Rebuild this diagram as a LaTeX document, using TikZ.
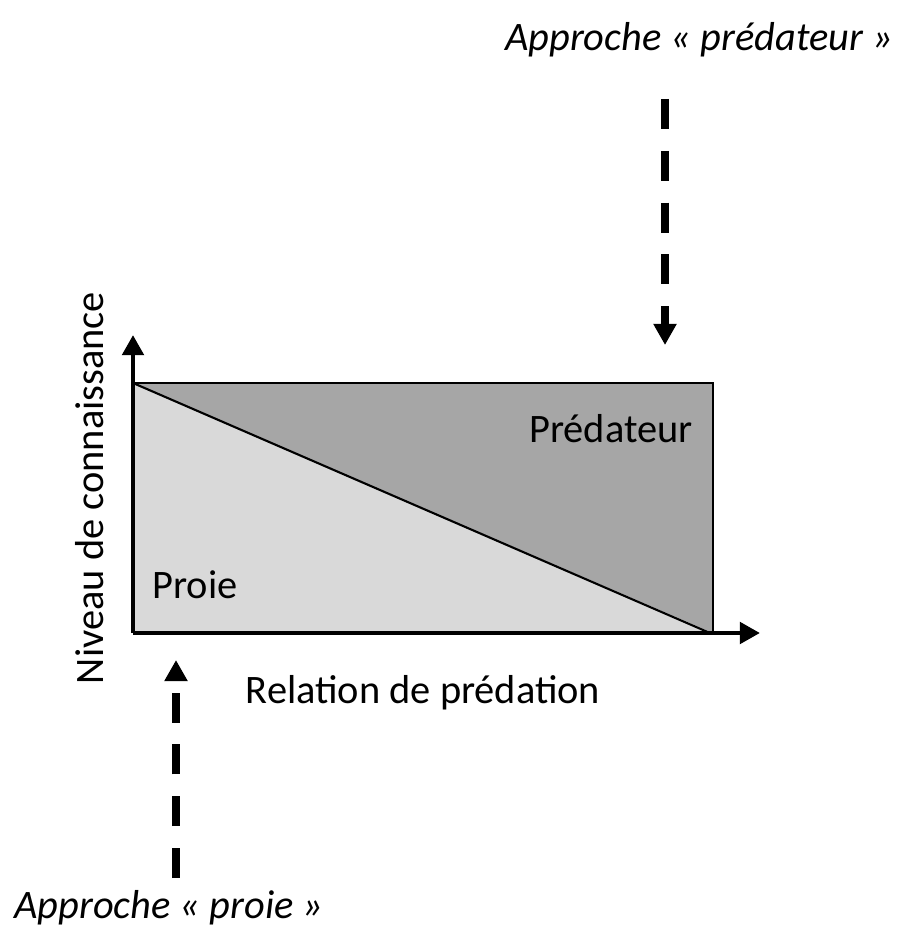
\documentclass[tikz,border=0pt]{standalone}
\usepackage{fontspec}
\setmainfont{Carlito}
\usepackage{xcolor}
\usepackage{tikz}
\usetikzlibrary{arrows.meta,positioning}

\definecolor{predgray}{HTML}{A6A6A6}
\definecolor{proiegray}{HTML}{D9D9D9}

\begin{document}
\begin{tikzpicture}[x=0.02cm, y=-0.02cm,
  axis/.style={line width=2.8pt, -{Triangle[length=11.5pt,width=12pt]}},
  approach/.style={line width=4.6pt, dash pattern=on 17pt off 12.5pt, -{Triangle[length=12pt,width=12.5pt]}},
  lbl/.style={font=\fontsize{23}{27}\selectfont, inner sep=0pt},
  approchelbl/.style={font=\fontsize{23}{27}\selectfont\itshape, inner sep=0pt}]

\useasboundingbox (0,0) rectangle (899,929);

% Corners of the diagram
\coordinate (origin) at (133,633);
\coordinate (topleft) at (133,383);
\coordinate (topright) at (713,383);
\coordinate (rightfoot) at (713,633);
\coordinate (diagfoot) at (710,633);

% Predator part (upper triangle) and prey part (lower triangle)
\fill[predgray] (topleft) -- (topright) -- (rightfoot) -- cycle;
\fill[proiegray] (topleft) -- (diagfoot) -- (origin) -- cycle;
\draw[line width=1.3pt] (topleft) -- (topright) -- (rightfoot);
\draw[line width=1.2pt] (topleft) -- (diagfoot);

% Axes
\coordinate (ytip) at (133,335);
\coordinate (xtip) at (760,633);
\draw[axis] (origin) -- (ytip);
\draw[axis] (origin) -- (xtip);

% Labels
\node[lbl] (pred) at (611,429) {Prédateur};
\node[lbl] (proie) at (195,585) {Proie};
\node[lbl] (xlabel) at (423,693) {Relation de prédation};
\node[lbl, rotate=90] (ylabel) at (90,488) {Niveau de connaissance};

% Approaches
\node[approchelbl] (apppred) at (699,40) {Approche « prédateur »};
\node[approchelbl] (appproie) at (169,908) {Approche « proie »};
\coordinate (predstart) at (665,99);
\coordinate (predend) at (665,345);
\coordinate (proiestart) at (176,878);
\coordinate (proieend) at (176,660);
\draw[approach] (predstart) -- (predend);
\draw[approach] (proiestart) -- (proieend);

\end{tikzpicture}
\end{document}
